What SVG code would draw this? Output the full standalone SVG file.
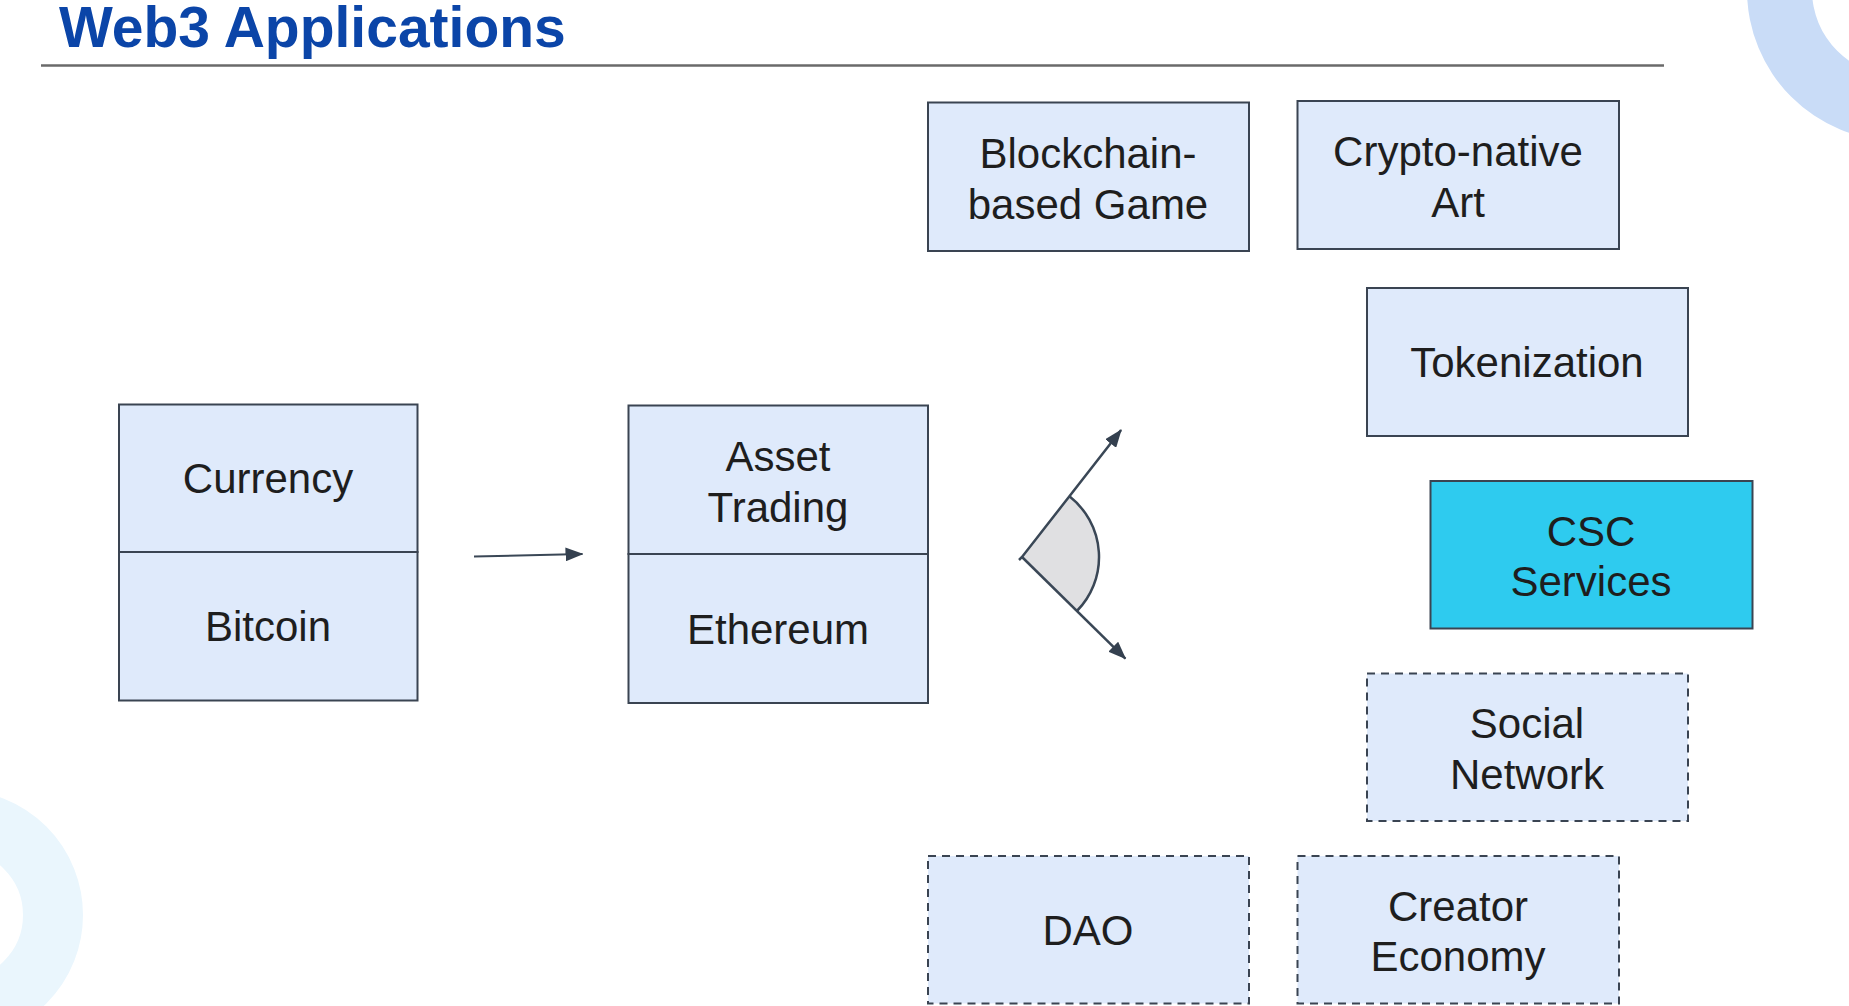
<svg xmlns="http://www.w3.org/2000/svg" width="1849" height="1006" viewBox="0 0 1849 1006">
<style>
.box{fill:#dfeafb;stroke:#3a4452;stroke-width:2}
.dash{stroke-dasharray:8,6}
.csc{fill:#2ecbef}
.lbl{font-family:"Liberation Sans",Arial,sans-serif;font-size:42px;fill:#1e1e1e;text-anchor:middle}
.ln{stroke:#3a4756;stroke-width:2.5;fill:none}
</style>
<defs>
<marker id="ah" viewBox="0 0 18 14" refX="17" refY="7" markerWidth="18" markerHeight="14" markerUnits="userSpaceOnUse" orient="auto">
<path d="M0,0 L18,7 L0,14 Z" fill="#34404f"/>
</marker>
</defs>
<rect width="1849" height="1006" fill="#ffffff"/>
<g id="decor">
<path d="M1747,-10 A151,151 0 0 0 2049,-10 L1984,-10 A86,86 0 0 1 1812,-10 Z" fill="#c9dcf7"/>
<circle cx="-42" cy="915" r="95" fill="none" stroke="#eaf6fd" stroke-width="60"/>
</g>
<g id="title">
<text x="59" y="47" font-family="'Liberation Sans',Arial,sans-serif" font-weight="bold" font-size="57" fill="#0b45a8">Web3 Applications</text>
<line x1="41" y1="65.5" x2="1664" y2="65.5" stroke="#6a6a6a" stroke-width="2.5"/>
</g>
<g id="currency"><rect class="box" x="119" y="404.5" width="298.5" height="147.5"/><text class="lbl" x="268" y="493">Currency</text></g>
<g id="bitcoin"><rect class="box" x="119" y="552" width="298.5" height="148.5"/><text class="lbl" x="268" y="641">Bitcoin</text></g>
<g id="asset-trading"><rect class="box" x="628.5" y="405.5" width="299.5" height="148.5"/><text class="lbl" x="778" y="471">Asset</text><text class="lbl" x="778" y="522">Trading</text></g>
<g id="ethereum"><rect class="box" x="628.5" y="554" width="299.5" height="149"/><text class="lbl" x="778" y="643.5">Ethereum</text></g>
<g id="blockchain-game"><rect class="box" x="928" y="102.5" width="321" height="148.5"/><text class="lbl" x="1088" y="168">Blockchain-</text><text class="lbl" x="1088" y="219">based Game</text></g>
<g id="crypto-art"><rect class="box" x="1297.5" y="101" width="321.5" height="148"/><text class="lbl" x="1458" y="166">Crypto-native</text><text class="lbl" x="1458" y="217">Art</text></g>
<g id="tokenization"><rect class="box" x="1367" y="288" width="321" height="148"/><text class="lbl" x="1527" y="377">Tokenization</text></g>
<g id="csc-services"><rect class="box csc" x="1430.5" y="481" width="322" height="147.5"/><text class="lbl" x="1591" y="546">CSC</text><text class="lbl" x="1591" y="596">Services</text></g>
<g id="social-network"><rect class="box dash" x="1367" y="673.5" width="321" height="147.5"/><text class="lbl" x="1527" y="738">Social</text><text class="lbl" x="1527" y="789">Network</text></g>
<g id="dao"><rect class="box dash" x="928" y="856" width="321" height="147.5"/><text class="lbl" x="1088" y="945">DAO</text></g>
<g id="creator-economy"><rect class="box dash" x="1297.5" y="856" width="321.5" height="147.5"/><text class="lbl" x="1458" y="921">Creator</text><text class="lbl" x="1458" y="971">Economy</text></g>
<g id="connectors">
<line x1="474" y1="556.5" x2="582.5" y2="554" stroke="#3a4756" stroke-width="2" marker-end="url(#ah)"/>
<path d="M1022,557 L1069.4,496.3 A77,77 0 0 1 1076.9,611 Z" fill="#e0e0e2" stroke="none"/>
<path class="ln" d="M1069.4,496.3 A77,77 0 0 1 1076.9,611"/>
<path class="ln" d="M1019,560 L1022,557 L1121.1,430.1" marker-end="url(#ah)"/>
<path class="ln" d="M1022,557 L1125.4,658.6" marker-end="url(#ah)"/>
</g>
</svg>
